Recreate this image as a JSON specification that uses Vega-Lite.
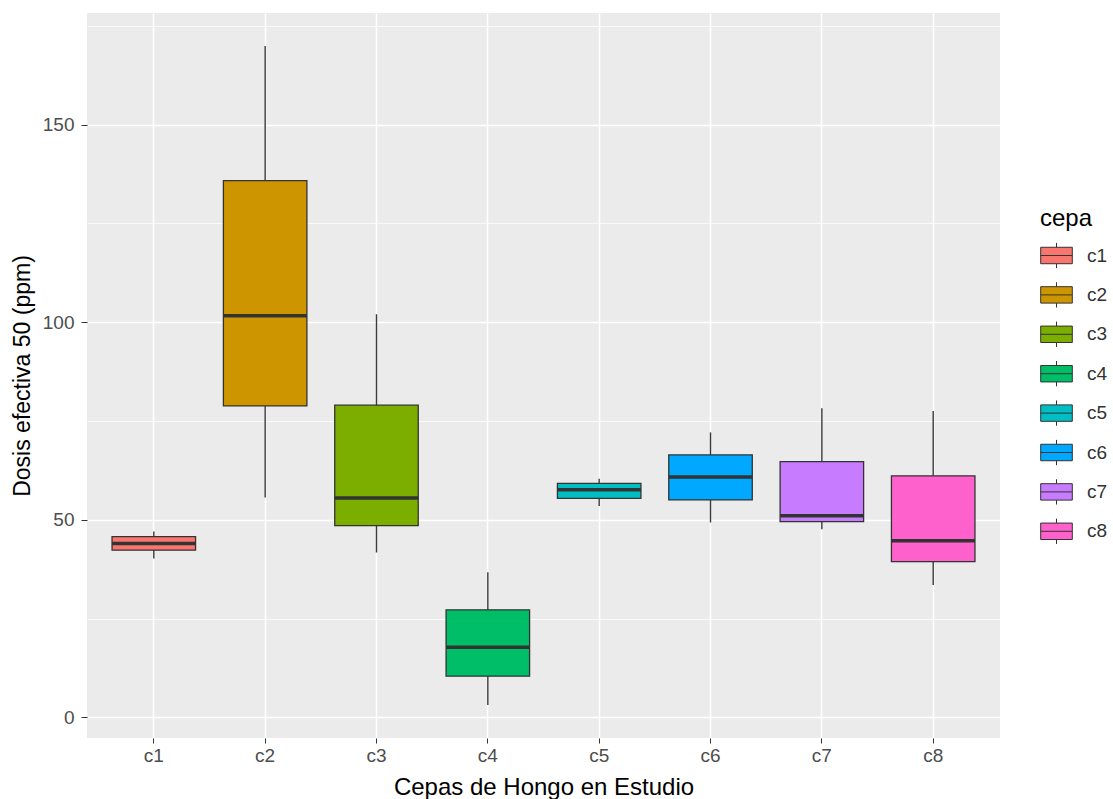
{
  "$schema": "https://vega.github.io/schema/vega-lite/v6.json",
  "autosize": {"type": "none"},
  "padding": {"left": 87, "top": 13, "right": 113, "bottom": 61},
  "width": 913,
  "height": 725,
  "background": "white",
  "config": {
    "font": "Liberation Sans",
    "view": {"fill": "#EBEBEB", "stroke": null}
  },
  "data": {
    "values": [
      {"cepa": "c1", "lower": 40.2, "q1": 42.3, "median": 44.0, "q3": 45.7, "upper": 47.0},
      {"cepa": "c2", "lower": 55.6, "q1": 78.8, "median": 101.6, "q3": 135.8, "upper": 169.9},
      {"cepa": "c3", "lower": 41.7, "q1": 48.5, "median": 55.5, "q3": 79.0, "upper": 102.0},
      {"cepa": "c4", "lower": 3.1, "q1": 10.4, "median": 17.7, "q3": 27.2, "upper": 36.7},
      {"cepa": "c5", "lower": 53.5, "q1": 55.4, "median": 57.6, "q3": 59.2, "upper": 60.4},
      {"cepa": "c6", "lower": 49.3, "q1": 55.0, "median": 60.8, "q3": 66.4, "upper": 72.1},
      {"cepa": "c7", "lower": 47.6, "q1": 49.5, "median": 51.0, "q3": 64.7, "upper": 78.2},
      {"cepa": "c8", "lower": 33.5, "q1": 39.4, "median": 44.7, "q3": 61.1, "upper": 77.5}
    ]
  },
  "encoding": {
    "x": {
      "field": "cepa",
      "type": "nominal",
      "scale": {"type": "band", "domain": ["c1", "c2", "c3", "c4", "c5", "c6", "c7", "c8"], "paddingInner": 0.25, "paddingOuter": 0.225},
      "axis": {
        "title": "Cepas de Hongo en Estudio",
        "titleFontSize": 24,
        "titleFontWeight": "normal",
        "titleColor": "#000000",
        "titlePadding": 10,
        "labelAngle": 0,
        "labelFontSize": 19,
        "labelColor": "#4D4D4D",
        "labelPadding": 3,
        "domain": false,
        "tickColor": "#333333",
        "tickSize": 5,
        "tickWidth": 1,
        "bandPosition": 0.5,
        "grid": true,
        "gridColor": "#FFFFFF",
        "gridWidth": 1.5
      }
    }
  },
  "layer": [
    {
      "mark": {"type": "rule", "color": "#3a3a3a", "strokeWidth": 1.4},
      "encoding": {
        "y": {
          "field": "lower",
          "type": "quantitative",
          "scale": {"domain": [-5.24, 178.24], "nice": false, "zero": false},
          "axis": {
            "title": "Dosis efectiva 50 (ppm)",
            "titleFontSize": 23,
            "titleFontWeight": "normal",
            "titleColor": "#000000",
            "titlePadding": 8,
            "values": [0, 25, 50, 75, 100, 125, 150, 175],
            "labelExpr": "datum.value % 50 === 0 ? datum.label : ''",
            "labelFontSize": 19,
            "labelColor": "#4D4D4D",
            "labelPadding": 7,
            "domain": false,
            "tickColor": "#333333",
            "tickSize": 6,
            "tickWidth": 1,
            "tickOpacity": {"condition": {"test": "datum.value % 50 === 0", "value": 1}, "value": 0},
            "grid": true,
            "gridColor": "#FFFFFF",
            "gridWidth": {"condition": {"test": "datum.value % 50 === 0", "value": 1.5}, "value": 0.75}
          }
        },
        "y2": {"field": "upper"}
      }
    },
    {
      "mark": {"type": "bar", "stroke": "#333333", "strokeWidth": 1.3, "opacity": 1},
      "encoding": {
        "y": {"field": "q1", "type": "quantitative"},
        "y2": {"field": "q3"},
        "color": {
          "field": "cepa",
          "type": "nominal",
          "scale": {
            "domain": ["c1", "c2", "c3", "c4", "c5", "c6", "c7", "c8"],
            "range": ["#F8766D", "#CD9600", "#7CAE00", "#00BE67", "#00BFC4", "#00A9FF", "#C77CFF", "#FF61CC"]
          },
          "legend": {
            "title": "cepa",
            "orient": "none",
            "legendX": 953,
            "legendY": 194,
            "titleFontSize": 24,
            "titleFontWeight": "normal",
            "titleColor": "#000000",
            "titlePadding": 8,
            "labelFontSize": 19,
            "labelColor": "#333333",
            "labelOffset": 14,
            "symbolType": "M-1,-0.52H1V0.52H-1Z M-1,0H1 M0,-0.52V-0.8 M0,0.52V0.8",
            "symbolSize": 1000,
            "symbolStrokeColor": "#333333",
            "symbolStrokeWidth": 1,
            "symbolOpacity": 1,
            "rowPadding": 7.4
          }
        }
      }
    },
    {
      "mark": {"type": "tick", "color": "#333333", "thickness": 3.5, "size": 83.5, "opacity": 1},
      "encoding": {
        "y": {"field": "median", "type": "quantitative"}
      }
    }
  ]
}
